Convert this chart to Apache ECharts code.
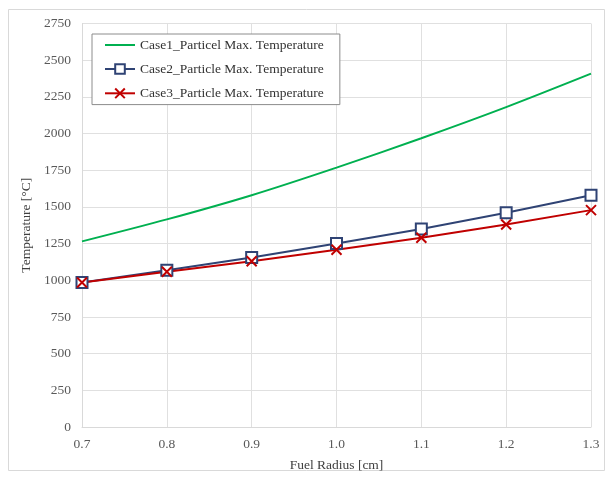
<!DOCTYPE html>
<html>
<head>
    <meta charset="utf-8">
    <script type="text/javascript" src="https://cdn.jsdelivr.net/npm/echarts@6/dist/echarts.min.js"></script>
    <style type="text/css">
        *{ margin: 0; padding: 0; }
        #main{ width: 611px; height: 477px; background: #fff; }
    </style>
</head>
<body>
<div id="main"></div>
<script type="text/javascript">
    // data
    var radius = ['0.7', '0.8', '0.9', '1.0', '1.1', '1.2', '1.3'];
    var case1 = [1265, 1415, 1580, 1768, 1968, 2180, 2408];
    var case2 = [985, 1068, 1155, 1250, 1350, 1460, 1580];
    var case3 = [985, 1058, 1130, 1208, 1290, 1380, 1478];
    var yTicks = [0, 250, 500, 750, 1000, 1250, 1500, 1750, 2000, 2250, 2500, 2750];
    var names = ['Case1_Particel Max. Temperature', 'Case2_Particle Max. Temperature', 'Case3_Particle Max. Temperature'];

    var font = 'Liberation Serif';
    var myChart = echarts.init(document.getElementById('main'));
    var option = {
        backgroundColor: '#ffffff',
        animation: false,
        graphic: [{
            type: 'rect',
            shape: { x: 8.5, y: 9.5, width: 596, height: 461 },
            style: { fill: 'none', stroke: '#d9d9d9', lineWidth: 1 },
            z: -1
        }],
        grid: { left: 82, right: 20, top: 23.5, bottom: 50 },
        legend: {
            orient: 'vertical',
            left: 92,
            top: 34,
            padding: [4, 16, 4, 12],
            itemGap: 10,
            itemWidth: 30,
            itemHeight: 12,
            borderColor: '#8c8c8c',
            borderWidth: 1,
            backgroundColor: '#fff',
            textStyle: { fontFamily: font, fontSize: 13.5, color: '#333' },
            data: [
                { name: names[0], itemStyle: { opacity: 0 } },
                names[1],
                names[2]
            ]
        },
        xAxis: {
            type: 'category',
            data: radius,
            boundaryGap: false,
            name: 'Fuel Radius [cm]',
            nameLocation: 'middle',
            nameGap: 31,
            nameTextStyle: { fontFamily: font, fontSize: 13.5, color: '#404040' },
            axisLine: { lineStyle: { color: '#d9d9d9' } },
            axisTick: { show: false },
            axisLabel: { fontFamily: font, fontSize: 13.5, color: '#595959', margin: 10 },
            splitLine: { show: true, lineStyle: { color: '#e0e0e0' } }
        },
        yAxis: {
            type: 'value',
            min: yTicks[0],
            max: yTicks[yTicks.length - 1],
            interval: 250,
            name: 'Temperature [\u00B0C]',
            nameLocation: 'middle',
            nameGap: 42,
            nameTextStyle: { fontFamily: font, fontSize: 13.5, color: '#404040' },
            axisLine: { show: true, lineStyle: { color: '#d9d9d9' } },
            axisTick: { show: false },
            axisLabel: {
                fontFamily: font, fontSize: 13.5, color: '#595959', margin: 11,
                formatter: function (v) { return String(v); }
            },
            splitLine: { lineStyle: { color: '#e0e0e0' } }
        },
        series: [
            {
                name: names[0],
                type: 'line',
                data: case1,
                smooth: 0.3,
                symbol: 'none',
                lineStyle: { color: '#00b050', width: 2 },
                itemStyle: { color: '#00b050' }
            },
            {
                name: names[1],
                type: 'line',
                data: case2,
                symbol: 'emptyRect',
                symbolSize: 11,
                lineStyle: { color: '#2f4374', width: 2 },
                itemStyle: { color: '#2f4374', borderColor: '#2f4374', borderWidth: 2 }
            },
            {
                name: names[2],
                type: 'line',
                data: case3,
                symbol: 'path://M0,0L10,10M10,0L0,10',
                symbolSize: 10,
                lineStyle: { color: '#c00000', width: 2 },
                itemStyle: { color: 'none', borderColor: '#c00000', borderWidth: 2 }
            }
        ]
    };
    myChart.setOption(option);
</script>
</body>
</html>
